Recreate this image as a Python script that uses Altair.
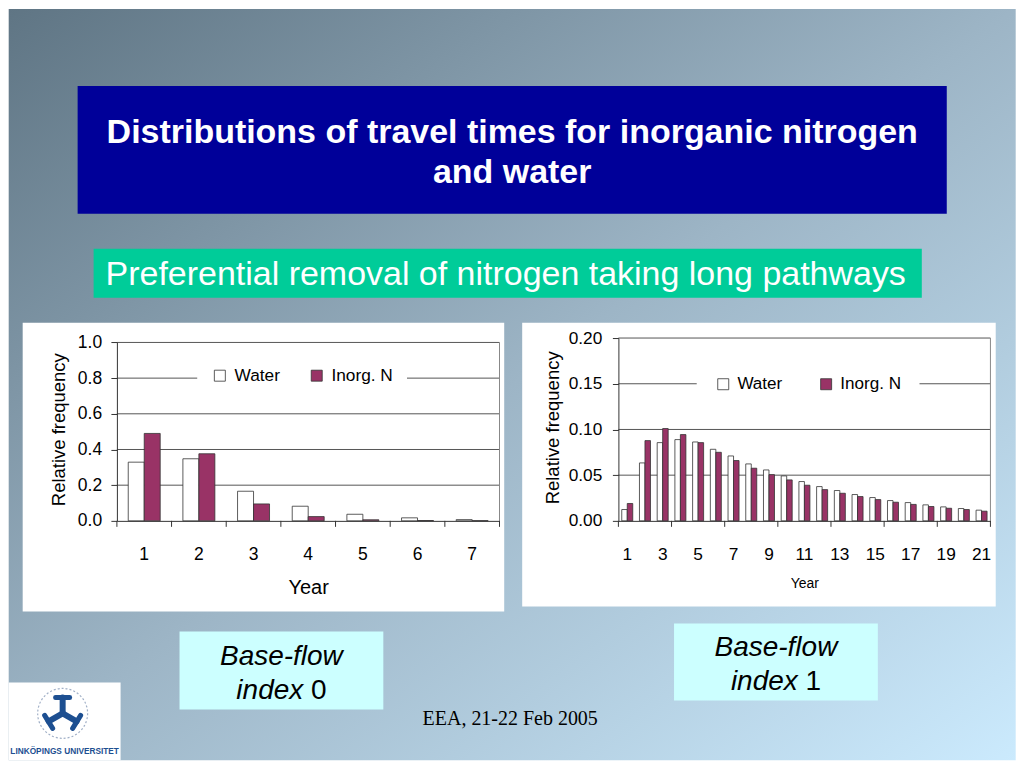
import altair as alt
import pandas as pd

# ---------------- data ----------------
series = ["Water", "Inorg. N"]

years1 = [1, 2, 3, 4, 5, 6, 7]
water1 = [0.329, 0.348, 0.166, 0.082, 0.037, 0.017, 0.007]
inorg1 = [0.490, 0.376, 0.095, 0.024, 0.006, 0.002, 0.001]

years2 = list(range(1, 22))
water2 = [0.0124, 0.0634, 0.0856, 0.0889, 0.0863, 0.0783, 0.0710, 0.0623, 0.0557, 0.0492, 0.0430,
          0.0375, 0.0332, 0.0288, 0.0255, 0.0222, 0.0200, 0.0175, 0.0153, 0.0135, 0.0117]
inorg2 = [0.0190, 0.0878, 0.1010, 0.0944, 0.0856, 0.0750, 0.0660, 0.0576, 0.0506, 0.0448, 0.0390,
          0.0342, 0.0302, 0.0266, 0.0233, 0.0204, 0.0180, 0.0157, 0.0138, 0.0124, 0.0106]

yticks1 = [0.0, 0.2, 0.4, 0.6, 0.8, 1.0]
yticks2 = [0.0, 0.05, 0.10, 0.15, 0.20]
xlabels2 = [1, 3, 5, 7, 9, 11, 13, 15, 17, 19, 21]
xtick_starts1 = [1, 2, 3, 4, 5, 6, 7]
xtick_starts2 = [1, 4, 7, 10, 13, 16, 19]

title_lines = ["Distributions of travel times for inorganic nitrogen", "and water"]
subtitle = "Preferential removal of nitrogen taking long pathways"
box_line1 = "Base-flow"
box_word = "index"
box_nums = ["0", "1"]
footer = "EEA, 21-22 Feb 2005"
logo_text = "LINKÖPINGS UNIVERSITET"

F = "Liberation Sans"

# ---------------- layout ----------------
OX1, OY = 116.3, 337.3
W1, H = 383, 183
OX2, W2 = 618.3, 372.4
SPACING = OX2 - (OX1 + W1)

one = pd.DataFrame({"a": [0]})


def vx(x):
    return alt.value(x - OX1)


def vy(y):
    return alt.value(y - OY)


def box(x0, y0, x1, y1, fill):
    return alt.Chart(one).mark_rect(fill=fill).encode(x=vx(x0), x2=vx(x1), y=vy(y0), y2=vy(y1))


def label(text, x, y, size, align="center", color="black", font=F, weight="normal", style="normal"):
    return alt.Chart(pd.DataFrame({"t": [text]})).mark_text(
        fontSize=size, font=font, align=align, baseline="alphabetic", color=color,
        fontWeight=weight, fontStyle=style
    ).encode(x=vx(x), y=vy(y), text="t:N")


def seg(x0, y0, x1, y1, color, width):
    return alt.Chart(one).mark_rule(color=color, strokeWidth=width, strokeCap="round").encode(
        x=vx(x0), x2=vx(x1), y=vy(y0), y2=vy(y1))


grad = alt.LinearGradient(
    gradient="linear",
    stops=[alt.GradientStop(offset=0, color="#5f7584"),
           alt.GradientStop(offset=0.5, color="#9db5c6"),
           alt.GradientStop(offset=1, color="#cbeafd")],
    x1=0, y1=0, x2=1, y2=1)

decor = [
    box(8, 8, 1016, 760, grad),
    box(77, 85, 947, 213, "#000099"),
    label(title_lines[0], 512, 141.7, 34, color="white", weight="bold"),
    label(title_lines[1], 512, 181.7, 34, color="white", weight="bold"),
    box(93, 248, 922, 297, "#00CC99"),
    label(subtitle, 105, 284.3, 34, align="left", color="white"),
    box(22, 322, 504, 611, "white"),
    box(522, 322, 996, 606, "white"),
    box(179, 631, 383, 709, "#CCFFFF"),
    label(box_line1, 281, 665, 28, style="italic"),
    label(box_word, 235.9, 699, 28, align="left", style="italic"),
    label(box_nums[0], 310.6, 699, 28, align="left"),
    box(674, 623, 878, 700, "#CCFFFF"),
    label(box_line1, 776, 656, 28, style="italic"),
    label(box_word, 730.9, 690, 28, align="left", style="italic"),
    label(box_nums[1], 805.6, 690, 28, align="left"),
    label(footer, 510, 725, 20, font="Liberation Serif"),
    box(8, 682, 120, 760, "white"),
    alt.Chart(one).mark_point(shape="circle", filled=False, size=2500, color="#7a8fb0",
                              strokeWidth=1.2, strokeDash=[2, 2]).encode(x=vx(62), y=vy(713)),
    seg(62, 713, 62, 697, "#1d4f91", 6),
    seg(62, 713, 48, 721, "#1d4f91", 6),
    seg(62, 713, 76, 721, "#1d4f91", 6),
    seg(55, 697, 69, 697, "#1d4f91", 5),
    seg(44, 715, 52, 728, "#1d4f91", 5),
    seg(80, 715, 72, 728, "#1d4f91", 5),
    label(logo_text, 64, 754, 8.3, color="#1d4f91", weight="bold"),
]


def long_df(years, water, inorg):
    rows = []
    for yr, w, n in zip(years, water, inorg):
        rows.append({"year": yr, "series": series[0], "value": w})
        rows.append({"year": yr, "series": series[1], "value": n})
    return pd.DataFrame(rows)


def bar_panel(df, width, yscale, yvals, yfmt, ylabpad, ytitle_xy, xvals, xtitle_size, xtitle_y,
              off_pad, tick_starts, last_year, legend, label_size):
    xscale = alt.Scale(paddingInner=0, paddingOuter=0)
    xaxis = alt.Axis(values=xvals, ticks=False, labelAngle=0, labelFontSize=label_size, labelFont=F,
                     labelColor="black", labelPadding=38.3, labelBaseline="alphabetic",
                     domainColor="#333333", grid=False, title="Year", titleFont=F,
                     titleFontSize=xtitle_size, titleFontWeight="normal", titleColor="black",
                     titleY=xtitle_y, titleBaseline="alphabetic", zindex=1)
    yaxis = alt.Axis(values=yvals, format=yfmt, grid=False, tickSize=6, tickColor="#333333",
                     domainColor="#333333", labelPadding=ylabpad, labelFontSize=label_size,
                     labelFont=F, labelColor="black", title="Relative frequency", titleFont=F,
                     titleFontSize=18.5, titleFontWeight="normal", titleColor="black",
                     titleX=ytitle_xy[0], titleY=ytitle_xy[1], titleBaseline="alphabetic",
                     titleAngle=270, zindex=1)
    grid = alt.Chart(pd.DataFrame({"value": yvals[1:]})).mark_rule(
        color="#555555", strokeWidth=1).encode(
        y=alt.Y("value:Q", scale=yscale, axis=yaxis), x=alt.value(0), x2=alt.value(width))
    frame = alt.Chart(pd.DataFrame({"value": [yvals[-1]], "base": [0.0]})).mark_rule(
        color="#888888", strokeWidth=1).encode(
        x=alt.value(width), y=alt.Y("value:Q", scale=yscale, axis=yaxis), y2="base:Q")
    bars = alt.Chart(df).mark_bar(stroke="#333333", strokeWidth=0.8).encode(
        x=alt.X("year:O", scale=xscale, axis=xaxis),
        xOffset=alt.XOffset("series:N", scale=alt.Scale(domain=series, paddingInner=0,
                                                         paddingOuter=off_pad)),
        y=alt.Y("value:Q", scale=yscale, axis=yaxis),
        color=alt.Color("series:N", scale=alt.Scale(domain=series, range=["white", "#993366"]),
                        legend=legend),
    )
    ticks = alt.Chart(pd.DataFrame({"year": tick_starts})).mark_rule(
        color="#333333", strokeWidth=1).encode(
        x=alt.X("year:O", bandPosition=0, scale=xscale, axis=xaxis),
        y=alt.value(H), y2=alt.value(H + 6))
    end_tick = alt.Chart(pd.DataFrame({"year": [last_year]})).mark_rule(
        color="#333333", strokeWidth=1).encode(
        x=alt.X("year:O", bandPosition=1, scale=xscale, axis=xaxis),
        y=alt.value(H), y2=alt.value(H + 6))
    return [grid, frame, bars, ticks, end_tick]


leg1 = alt.Legend(orient="none", legendX=80.4, legendY=15, direction="horizontal", title=None,
                  fillColor="white", padding=14, columnPadding=28, labelOffset=6,
                  symbolType="square", symbolSize=121, symbolStrokeColor="#333333",
                  symbolStrokeWidth=0.8, labelFontSize=17.3, labelFont=F, labelColor="black",
                  zindex=1)
leg2 = alt.Legend(orient="none", legendX=78.4, legendY=19.5, direction="horizontal", title=None,
                  fillColor="white", padding=18, columnPadding=35, labelOffset=5.6,
                  symbolType="square", symbolSize=121, symbolStrokeColor="#333333",
                  symbolStrokeWidth=0.8, labelFontSize=17.1, labelFont=F, labelColor="black",
                  zindex=1)

yscale1 = alt.Scale(domain=[0, 1.0], range=[H, 4.4], nice=False, zero=True)
yscale2 = alt.Scale(domain=[0, 0.20], nice=False, zero=True)

panel1 = bar_panel(long_df(years1, water1, inorg1), W1, yscale1, yticks1, ".1f", 9.3,
                   (63.6 - OX1, 428.5 - OY), years1, 20, 72.7, 0.71, xtick_starts1, 7, leg1, 17.5)
panel2 = bar_panel(long_df(years2, water2, inorg2), W2, yscale2, yticks2, ".2f", 10.6,
                   (557.9 - OX2, 426.7 - OY), xlabels2, 14, 66.7, 0.61, xtick_starts2, 21, leg2, 17.3)

c1 = alt.layer(*decor, *panel1).properties(width=W1, height=H)
c2 = alt.layer(*panel2).properties(width=W2, height=H)

chart = alt.hconcat(c1, c2, spacing=SPACING, bounds="flush").resolve_scale(
    color="independent", xOffset="independent", x="independent", y="independent"
).resolve_legend(color="independent").properties(
    padding=0, background="white").configure_view(stroke=None)

chart.save("out.html", embed_options={"renderer": "svg", "actions": False})
